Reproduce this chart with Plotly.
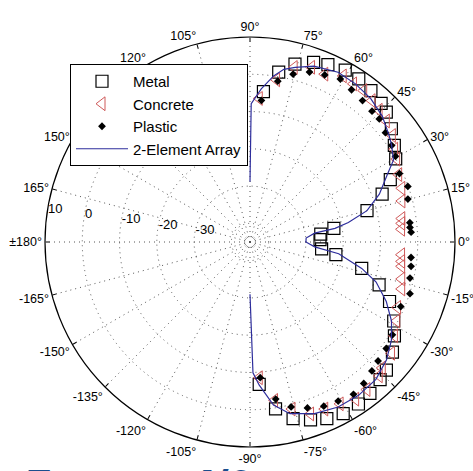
import plotly.graph_objects as go

# ---- data (angles in degrees, values in dB) ----
line_theta = [-90, -88.7, -86.3, -81.8, -76.9, -69.4, -61.9, -54.7, -47.5, -40.8, -34.8, -29.2,
              -23.6, -17.6, -13.3, -7.5, -4.3, 0, 4, 7.8, 9.1, 11.2, 15, 20.3, 26.1, 29.7, 34.3,
              37.4, 43.6, 49.9, 56.3, 62.6, 70, 75.5, 78.9, 81.9, 85.8, 89.5, 90]
line_db = [-31, -9.9, -6.5, -0.8, 2.3, 4.2, 5.2, 5.4, 5.0, 3.4, 1.2, -1.5,
           -5.1, -9.5, -14.2, -21, -27.6, -30, -29.9, -27.5, -21.9, -18.1, -12.5, -8.0, -4.0, -0.7, 1.0,
           2.0, 4.0, 5.3, 6.0, 6.3, 5.2, 3.4, 2.2, 0.0, -3.8, -7.9, -28.8]

metal_theta = [84.9, 80.4, 75.8, 70.5, 66.3, 61.0, 56.3, 51.4, 46.6, 43.6, 38.7, 33.8, 29.7, 24.0,
               19.9, 15.0, 9.2, 6.3, 2.0, -5.5, -8.4, -13.3, -18.4, -23.1, -28.8, -33.0, -37.7,
               -43.2, -46.6, -51.6, -56.2, -61.5, -66.5, -71.2, -76.3, -81.3, -86.3]
metal_db = [-4.5, 1.2, 4.2, 6.1, 7.0, 7.7, 7.6, 7.0, 6.2, 5.5, 3.6, 1.6, 0.0, -3.8,
            -7.3, -12.5, -22.2, -25.9, -26.2, -25.7, -21.7, -14.2, -8.5, -4.3, -1.0, 1.2, 3.3,
            5.2, 5.8, 6.8, 7.3, 7.4, 6.7, 5.4, 3.8, 0.3, -6.7]

conc_theta = [86.3, 80.7, 75.8, 70.6, 66.0, 60.7, 56.8, 53.1, 49.2, 45.6, 41.6, 36.8, 32.7, 29.5,
              24.4, 19.5, 15.1, 8.8, 7.0, 4.8, -4.8, -7.3, -9.1, -13.7, -17.2, -23.9, -28.3,
              -33.0, -38.2, -43.6, -46.0, -51.6, -56.1, -60.9, -65.9, -70.6, -75.9, -81.2, -86.1]
conc_db = [-6.4, -0.9, 3.3, 4.7, 4.3, 6.1, 5.7, 5.8, 5.1, 4.5, 3.9, 2.7, 1.1, 0.2,
           -1.2, -1.8, -2.8, -3.8, -4.0, -4.2, -4.2, -4.0, -3.8, -3.1, -2.4, -1.7, -0.3,
           1.2, 3.3, 4.0, 4.9, 5.5, 5.8, 4.7, 4.1, 3.9, 1.2, -2.0, -8.5]

plas_theta = [85.4, 80.2, 75.6, 70.7, 65.9, 61.0, 56.3, 51.5, 47.0, 43.6, 38.9, 34.3, 30.5, 24.6,
              19.4, 15.2, 6.9, 5.2, 3.5, -5.5, -8.6, -12.7, -17.9, -23.2, -33.1, -38.0, -42.9,
              -46.6, -51.2, -55.8, -61.0, -65.8, -70.9, -76.0, -80.7, -85.7]
plas_db = [-6.9, -1.2, 1.5, 3.3, 4.1, 5.0, 4.1, 3.5, 3.0, 2.9, 1.7, 1.0, 0.3, -0.9,
           -0.1, -1.1, -1.8, -1.9, -1.7, -1.6, -1.3, -1.0, 0.1, -1.0, 0.6, 1.4, 1.9,
           2.6, 3.7, 4.4, 3.8, 3.3, 2.1, 0.6, -2.3, -8.5]

ang_tickvals = [0, 15, 30, 45, 60, 75, 90, 105, 120, 135, 150, 165, 180,
                195, 210, 225, 240, 255, 270, 285, 300, 315, 330, 345]
ang_ticktext = ["0°", "15°", "30°", "45°", "60°", "75°", "90°", "105°", "120°", "135°", "150°",
                "165°", "±180°", "-165°", "-150°", "-135°", "-120°", "-105°", "-90°", "-75°",
                "-60°", "-45°", "-30°", "-15°"]
rad_tickvals = [-40, -30, -20, -10, 0, 10]
rad_ticktext = ["", "-30", "-20", "-10", "0", "10"]

FONT = "Arial, Liberation Sans, sans-serif"
PAD = "\u00a0" * 7  # nudges radial labels outward, as in the original

fig = go.Figure()
fig.add_trace(go.Scatterpolar(
    r=metal_db, theta=metal_theta, mode="markers", name="Metal",
    marker=dict(symbol="square-open", size=12, color="black", line=dict(width=1.2))))
fig.add_trace(go.Scatterpolar(
    r=conc_db, theta=conc_theta, mode="markers", name="Concrete",
    marker=dict(symbol="triangle-left-open", size=12, color="#cf5a5a", line=dict(width=1))))
fig.add_trace(go.Scatterpolar(
    r=plas_db, theta=plas_theta, mode="markers", name="Plastic",
    marker=dict(symbol="diamond", size=6, color="black")))
fig.add_trace(go.Scatterpolar(
    r=line_db, theta=line_theta, mode="lines", name="2-Element Array",
    line=dict(color="#2e2e9c", width=1.2)))

W, H = 473, 471
cx, cy, R = 250, 242, 205
fig.update_layout(
    width=W, height=H,
    margin=dict(l=0, r=0, t=0, b=0),
    paper_bgcolor="white",
    font=dict(family=FONT, size=12, color="black"),
    polar=dict(
        domain=dict(x=[(cx - R) / W, (cx + R) / W], y=[(H - cy - R) / H, (H - cy + R) / H]),
        bgcolor="white",
        angularaxis=dict(
            direction="counterclockwise", rotation=0, thetaunit="degrees",
            tickmode="array", tickvals=ang_tickvals, ticktext=ang_ticktext,
            showline=True, linecolor="black", linewidth=1.2,
            ticks="inside", ticklen=4, tickcolor="black",
            showgrid=True, gridcolor="#555555", gridwidth=1, griddash="1px,4px",
            tickfont=dict(size=12.5, family=FONT, color="black")),
        radialaxis=dict(
            range=[-45, 10], tickmode="array", tickvals=rad_tickvals,
            ticktext=[t + PAD if t else t for t in rad_ticktext],
            angle=172, tickangle=172, showline=False, ticks="",
            showgrid=True, gridcolor="#555555", gridwidth=1, griddash="1px,4px",
            tickfont=dict(size=13, family=FONT, color="black")),
    ),
    legend=dict(
        x=70 / W, y=1 - 64 / H, xanchor="left", yanchor="top",
        bgcolor="white", bordercolor="black", borderwidth=1,
        font=dict(size=15, family=FONT, color="black"),
        itemwidth=52, itemsizing="trace"),
    showlegend=True,
)

# partially visible slide heading below the chart
for txt, xp in [("F", 20), ("4/6", 185)]:
    fig.add_annotation(text=txt, x=xp / W, y=1 - 459 / H, xref="paper", yref="paper",
                       xanchor="left", yanchor="top", showarrow=False,
                       font=dict(size=44, family=FONT, color="#1b4e8e", weight="bold", style="italic"))

fig.write_html("out.html")
